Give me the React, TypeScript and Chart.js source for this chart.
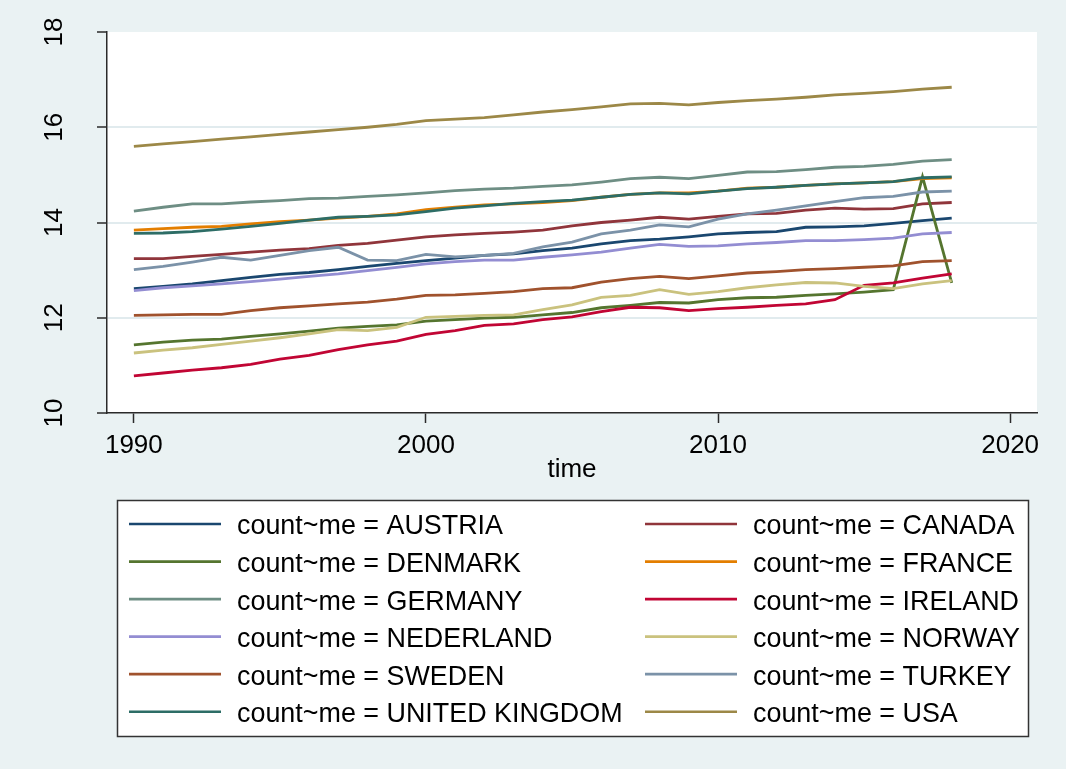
import { useEffect, useRef } from "react";
import { Chart, registerables } from "chart.js";

Chart.register(...registerables);

// Years on the x axis
const years = [
  1990, 1991, 1992, 1993, 1994, 1995, 1996, 1997, 1998, 1999,
  2000, 2001, 2002, 2003, 2004, 2005, 2006, 2007, 2008, 2009,
  2010, 2011, 2012, 2013, 2014, 2015, 2016, 2017, 2018,
];

const countries = [
  "AUSTRIA", "CANADA", "DENMARK", "FRANCE", "GERMANY", "IRELAND",
  "NEDERLAND", "NORWAY", "SWEDEN", "TURKEY", "UNITED KINGDOM", "USA",
];

const austria = [12.61, 12.66, 12.71, 12.78, 12.85, 12.91, 12.95, 13.01, 13.08, 13.14, 13.2, 13.25, 13.31, 13.34, 13.41, 13.46, 13.55, 13.62, 13.65, 13.7, 13.76, 13.79, 13.81, 13.9, 13.91, 13.93, 13.98, 14.04, 14.09];
const canada = [13.24, 13.24, 13.29, 13.33, 13.38, 13.42, 13.45, 13.52, 13.56, 13.63, 13.7, 13.74, 13.77, 13.8, 13.84, 13.93, 14.0, 14.05, 14.11, 14.07, 14.13, 14.18, 14.19, 14.26, 14.3, 14.28, 14.29, 14.39, 14.42];
const denmark = [11.43, 11.49, 11.53, 11.55, 11.61, 11.66, 11.72, 11.78, 11.82, 11.85, 11.93, 11.96, 11.99, 12.01, 12.06, 12.11, 12.21, 12.26, 12.32, 12.31, 12.38, 12.42, 12.43, 12.47, 12.5, 12.54, 12.59, 14.96, 12.73];
const france = [13.84, 13.87, 13.9, 13.92, 13.97, 14.02, 14.05, 14.09, 14.13, 14.18, 14.27, 14.32, 14.37, 14.39, 14.42, 14.46, 14.53, 14.59, 14.62, 14.62, 14.66, 14.72, 14.74, 14.78, 14.81, 14.83, 14.86, 14.92, 14.94];
const germany = [14.24, 14.32, 14.39, 14.39, 14.43, 14.46, 14.5, 14.51, 14.55, 14.58, 14.62, 14.67, 14.7, 14.72, 14.76, 14.79, 14.85, 14.92, 14.95, 14.92, 14.99, 15.06, 15.07, 15.11, 15.16, 15.18, 15.22, 15.29, 15.32];
const ireland = [10.78, 10.84, 10.9, 10.95, 11.02, 11.13, 11.21, 11.33, 11.43, 11.51, 11.65, 11.73, 11.84, 11.87, 11.96, 12.02, 12.13, 12.22, 12.21, 12.15, 12.19, 12.22, 12.26, 12.29, 12.38, 12.68, 12.73, 12.83, 12.92];
const nederland = [12.57, 12.63, 12.67, 12.71, 12.76, 12.81, 12.87, 12.92, 12.99, 13.06, 13.13, 13.18, 13.21, 13.21, 13.27, 13.32, 13.38, 13.46, 13.54, 13.5, 13.51, 13.55, 13.58, 13.62, 13.62, 13.64, 13.67, 13.76, 13.79];
const norway = [11.26, 11.32, 11.37, 11.44, 11.51, 11.58, 11.66, 11.75, 11.73, 11.8, 12.01, 12.03, 12.05, 12.06, 12.17, 12.27, 12.43, 12.47, 12.59, 12.49, 12.55, 12.63, 12.69, 12.74, 12.73, 12.66, 12.61, 12.71, 12.78];
const sweden = [12.05, 12.06, 12.07, 12.07, 12.15, 12.21, 12.25, 12.29, 12.33, 12.39, 12.47, 12.48, 12.51, 12.55, 12.61, 12.63, 12.75, 12.82, 12.87, 12.82, 12.88, 12.94, 12.97, 13.01, 13.03, 13.06, 13.09, 13.18, 13.2];
const turkey = [13.01, 13.08, 13.17, 13.27, 13.21, 13.31, 13.41, 13.48, 13.21, 13.2, 13.33, 13.28, 13.31, 13.35, 13.49, 13.59, 13.76, 13.84, 13.95, 13.91, 14.07, 14.18, 14.26, 14.35, 14.44, 14.52, 14.55, 14.64, 14.66];
const unitedKingdom = [13.77, 13.78, 13.81, 13.86, 13.92, 13.98, 14.05, 14.11, 14.13, 14.16, 14.23, 14.3, 14.35, 14.4, 14.44, 14.47, 14.53, 14.59, 14.62, 14.6, 14.66, 14.71, 14.74, 14.78, 14.81, 14.83, 14.86, 14.94, 14.96];
const usa = [15.6, 15.65, 15.7, 15.75, 15.8, 15.85, 15.9, 15.95, 16.0, 16.06, 16.14, 16.17, 16.2, 16.26, 16.32, 16.37, 16.43, 16.49, 16.5, 16.47, 16.52, 16.56, 16.59, 16.63, 16.68, 16.71, 16.75, 16.8, 16.84];

const seriesValues = [
  austria, canada, denmark, france, germany, ireland,
  nederland, norway, sweden, turkey, unitedKingdom, usa,
];

const seriesColors = [
  "#1A476F", "#90353B", "#55752F", "#E37E00", "#6E8E84", "#C10534",
  "#938DD2", "#CAC27E", "#A0522D", "#7B92A8", "#2D6D66", "#9C8847",
];

const xTickValues = [1990, 2000, 2010, 2020];
const yTickValues = [10, 12, 14, 16, 18];
const xTitle = "time";
const legendPrefix = "count~me = ";

const FONT = '"Liberation Sans", Arial, Helvetica, sans-serif';
const PAGE_BG = "#EAF2F3";
const GRID_COLOR = "#E1EBEE";
const AXIS_COLOR = "#2a2a2a";

const backgroundPlugin = {
  id: "panelBackground",
  beforeDraw(chart: any) {
    const { ctx, width, height, chartArea } = chart;
    ctx.save();
    ctx.fillStyle = PAGE_BG;
    ctx.fillRect(0, 0, width, height);
    ctx.fillStyle = "#ffffff";
    ctx.fillRect(
      chartArea.left,
      chartArea.top,
      chartArea.right - chartArea.left,
      chartArea.bottom - chartArea.top
    );
    ctx.restore();
  },
};

// Y tick labels written vertically, reading upward
const verticalYLabels = {
  id: "verticalYLabels",
  afterDraw(chart: any) {
    const { ctx } = chart;
    const scale = chart.scales.y;
    ctx.save();
    ctx.font = `26px ${FONT}`;
    ctx.fillStyle = "#000";
    ctx.textAlign = "center";
    ctx.textBaseline = "middle";
    scale.ticks.forEach((t: any) => {
      const y = scale.getPixelForValue(t.value);
      ctx.save();
      ctx.translate(55, y);
      ctx.rotate(-Math.PI / 2);
      ctx.fillText(String(t.value), 0, 0);
      ctx.restore();
    });
    ctx.restore();
  },
};

// Two-column boxed legend under the axis title
const boxedLegend = {
  id: "boxedLegend",
  afterDraw(chart: any) {
    const { ctx } = chart;
    const left = 117;
    const top = 500;
    const right = 1028;
    const bottom = 736;
    ctx.save();
    ctx.fillStyle = "#ffffff";
    ctx.fillRect(left, top, right - left, bottom - top);
    ctx.strokeStyle = "#333333";
    ctx.lineWidth = 1.5;
    ctx.strokeRect(left + 0.5, top + 0.5, right - left, bottom - top);

    ctx.font = `26.9px ${FONT}`;
    ctx.textAlign = "left";
    ctx.textBaseline = "middle";
    chart.data.datasets.forEach((ds: any, i: number) => {
      const col = i % 2;
      const row = Math.floor(i / 2);
      const x0 = col === 0 ? 129 : 645;
      const y = 524 + row * 37.55;
      ctx.strokeStyle = ds.borderColor;
      ctx.lineWidth = 2.7;
      ctx.beginPath();
      ctx.moveTo(x0, y);
      ctx.lineTo(x0 + 92, y);
      ctx.stroke();
      ctx.fillStyle = "#000";
      ctx.fillText(legendPrefix + ds.label, x0 + 108, y + 3);
    });
    ctx.restore();
  },
};

export default function App() {
  const canvasRef = useRef<HTMLCanvasElement | null>(null);

  useEffect(() => {
    document.body.style.margin = "0";
    const canvas = canvasRef.current;
    if (!canvas) return;

    const datasets = countries.map((name, i) => ({
      label: name,
      data: years.map((yr, j) => ({ x: yr, y: seriesValues[i][j] })),
      borderColor: seriesColors[i],
      backgroundColor: seriesColors[i],
      borderWidth: 2.8,
      pointRadius: 0,
      tension: 0,
      fill: false,
      order: -i,
    }));

    const chart = new Chart(canvas, {
      type: "line",
      data: { datasets },
      plugins: [backgroundPlugin, verticalYLabels, boxedLegend],
      options: {
        responsive: false,
        animation: false,
        events: [],
        layout: { padding: { top: 32, right: 29, bottom: 276, left: 0 } },
        plugins: {
          legend: { display: false },
          tooltip: { enabled: false },
          title: { display: false },
        },
        scales: {
          x: {
            type: "linear",
            min: 1989.08,
            max: 2020.92,
            afterBuildTicks: (scale: any) => {
              scale.ticks = xTickValues.map((v) => ({ value: v }));
            },
            afterFit: (scale: any) => {
              scale.height = 80;
            },
            ticks: {
              padding: 7,
              color: "#000",
              font: { family: FONT, size: 26 },
              maxRotation: 0,
              minRotation: 0,
              callback: (v: any) => String(v),
            },
            grid: {
              display: true,
              drawOnChartArea: false,
              drawTicks: true,
              tickLength: 10,
              tickColor: AXIS_COLOR,
              tickWidth: 1.5,
            },
            border: { display: true, color: AXIS_COLOR, width: 1.5 },
            title: {
              display: true,
              text: xTitle,
              color: "#000",
              font: { family: FONT, size: 26 },
              padding: { top: 0, bottom: 8 },
            },
          },
          y: {
            type: "linear",
            min: 10,
            max: 18,
            afterBuildTicks: (scale: any) => {
              scale.ticks = yTickValues.map((v) => ({ value: v }));
            },
            afterFit: (scale: any) => {
              scale.width = 107;
            },
            ticks: { display: false },
            grid: {
              display: true,
              drawOnChartArea: true,
              drawTicks: true,
              tickLength: 10,
              tickColor: AXIS_COLOR,
              tickWidth: 1.5,
              lineWidth: 2,
              color: (ctx: any) =>
                ctx.tick && (ctx.tick.value === 10 || ctx.tick.value === 18)
                  ? "rgba(0,0,0,0)"
                  : GRID_COLOR,
            },
            border: { display: true, color: AXIS_COLOR, width: 1.5 },
          },
        },
      },
    } as any);

    return () => chart.destroy();
  }, []);

  return (
    <canvas
      ref={canvasRef}
      width={1066}
      height={769}
      style={{ display: "block", width: 1066, height: 769 }}
    />
  );
}
